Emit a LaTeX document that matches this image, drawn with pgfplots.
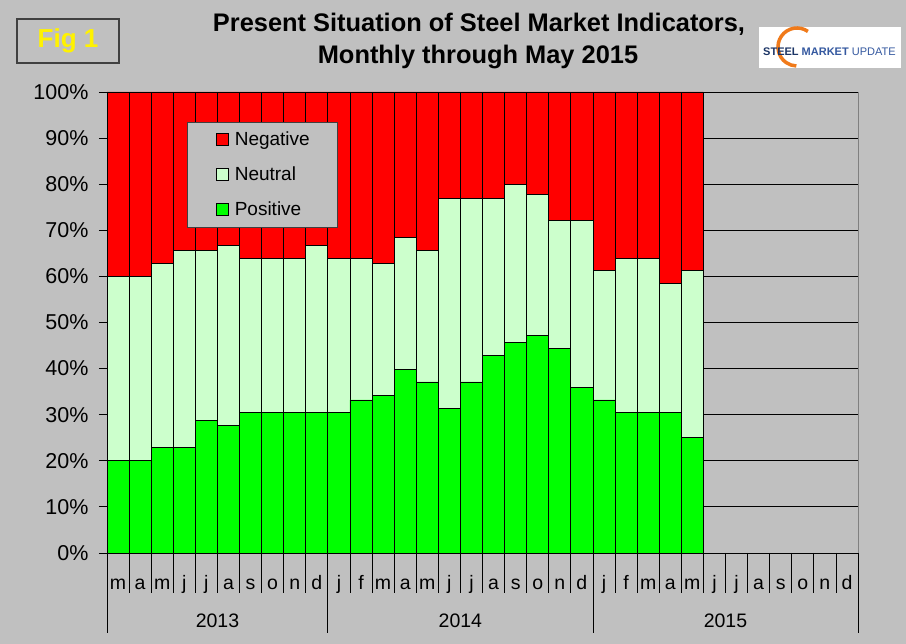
\documentclass[border=0pt]{standalone}
\usepackage{fontspec}
\setmainfont{Liberation Sans}
\usepackage{pgfplots}
\usepackage{pgfplotstable}
\pgfplotsset{compat=1.18}

\definecolor{bg}{HTML}{C0C0C0}
\definecolor{pos}{HTML}{00FF00}
\definecolor{neu}{HTML}{CCFFCC}
\definecolor{neg}{HTML}{FF0000}
\definecolor{navy}{HTML}{1C3566}
\definecolor{smublue}{HTML}{3559A0}
\definecolor{smuorange}{HTML}{F07A1A}

% share of indicators, % (Mar 2013 - May 2015)
\pgfplotstableread{
x  pos   neu   neg
0  20.0  40.0  40.0
1  20.0  40.0  40.0
2  22.8  40.0  37.2
3  22.8  42.9  34.3
4  28.7  37.0  34.3
5  27.7  39.0  33.3
6  30.5  33.3  36.2
7  30.5  33.3  36.2
8  30.5  33.3  36.2
9  30.5  36.2  33.3
10 30.5  33.3  36.2
11 33.2  30.6  36.2
12 34.1  28.7  37.2
13 39.8  28.7  31.5
14 37.1  28.6  34.3
15 31.4  45.6  23.0
16 37.1  39.9  23.0
17 42.9  34.1  23.0
18 45.6  34.3  20.1
19 47.1  30.6  22.3
20 44.3  27.9  27.8
21 36.0  36.2  27.8
22 33.2  28.0  38.8
23 30.5  33.3  36.2
24 30.5  33.3  36.2
25 30.5  27.9  41.6
26 25.0  36.2  38.8
}\data

% legend swatch: fixed cell, 12pt square at its right end
\newcommand\swatch[1]{%
  \path[fill=none, draw=none] (0pt,-17.5pt) rectangle (41pt,17.5pt);
  \draw[fill=#1, draw=black, line width=0.8pt] (29pt,-6pt) rectangle (41pt,6pt);}

\begin{document}
\begin{tikzpicture}
\useasboundingbox (0,0) rectangle (906pt,644pt);
\fill[bg] (0,0) rectangle (906pt,644pt);

% title
\node[anchor=base, font=\bfseries\fontsize{25.4}{28}\selectfont] at (479pt,612pt) {Present Situation of Steel Market Indicators,};
\node[anchor=base, font=\bfseries\fontsize{25.4}{28}\selectfont] at (478pt,580pt) {Monthly through May 2015};

% Fig 1 box
\draw[black!75, line width=1.2pt] (17pt,581pt) rectangle (119pt,625pt);
\node[font=\bfseries\fontsize{26}{30}\selectfont, text=yellow] at (68pt,603pt) {Fig 1};

% logo
\fill[white] (759pt,576pt) rectangle (901pt,617pt);
\draw[smuorange, line width=3.5pt] (797pt,597pt) ++(55:19pt) arc[start angle=55, end angle=268, radius=19pt];
\node[anchor=base west, inner sep=0pt, font=\fontsize{11}{13}\selectfont] at (763pt,588pt)
  {\textcolor{navy}{\bfseries STEEL} \textcolor{smublue}{\bfseries MARKET} \textcolor{smublue}{UPDATE}};

\begin{axis}[
  at={(107pt,91pt)}, anchor=south west,
  scale only axis, width=751pt, height=461pt,
  ybar stacked, bar width=1,
  xmin=-0.5, xmax=33.5, ymin=0, ymax=100,
  axis x line=bottom, axis y line=left,
  axis line style={-, black, line width=0.8pt},
  ytick={0,10,...,100},
  yticklabels={0\%,10\%,20\%,30\%,40\%,50\%,60\%,70\%,80\%,90\%,100\%},
  yticklabel style={font=\fontsize{21.5}{24}\selectfont, xshift=-7pt},
  tick align=outside, major tick length=8pt,
  ytick style={black, line width=0.8pt},
  ymajorgrids, grid style={black, line width=0.8pt},
  xtick={0,...,33},
  xticklabels={m,a,m,j,j,a,s,o,n,d,j,f,m,a,m,j,j,a,s,o,n,d,j,f,m,a,m,j,j,a,s,o,n,d},
  xticklabel style={font=\fontsize{19.5}{22}\selectfont, anchor=base, yshift=-29pt},
  xtick style={draw=none},
  clip=false,
  reverse legend,
  legend style={at={(axis description cs:0.1065,0.935)}, anchor=north west,
    fill=bg, draw=black!75, line width=0.8pt,
    font=\fontsize{19}{22}\selectfont,
    inner xsep=0pt, inner ysep=0pt, row sep=0pt,
    column sep=6pt,
    nodes={inner sep=0pt, text width=103pt},
    legend cell align=left},
]
\addplot[fill=pos, draw=black, line width=0.8pt,
  legend image code/.code={\swatch{pos}}] table[x=x, y=pos] {\data};
\addplot[fill=neu, draw=black, line width=0.8pt,
  legend image code/.code={\swatch{neu}}] table[x=x, y=neu] {\data};
\addplot[fill=neg, draw=black, line width=0.8pt,
  legend image code/.code={\swatch{neg}}] table[x=x, y=neg] {\data};
\legend{Positive, Neutral, Negative}

\draw[black!50, line width=0.8pt] (axis cs:33.5,0) -- (axis cs:33.5,100);
\pgfplotsinvokeforeach{-0.5,0.5,...,33.5}{
  \draw[black, line width=0.8pt] (axis cs:#1,0) -- ++(0pt,-40pt);
}
\draw[black, line width=0.8pt] (axis cs:-0.5,0) -- ++(0pt,-80pt);
\draw[black, line width=0.8pt] (axis cs:9.5,0) -- ++(0pt,-80pt);
\draw[black, line width=0.8pt] (axis cs:21.5,0) -- ++(0pt,-80pt);
\draw[black, line width=0.8pt] (axis cs:33.5,0) -- ++(0pt,-80pt);
\node[font=\fontsize{19.5}{22}\selectfont] at (axis cs:4.5,0) [yshift=-68pt] {2013};
\node[font=\fontsize{19.5}{22}\selectfont] at (axis cs:15.5,0) [yshift=-68pt] {2014};
\node[font=\fontsize{19.5}{22}\selectfont] at (axis cs:27.5,0) [yshift=-68pt] {2015};
\end{axis}
\end{tikzpicture}
\end{document}
